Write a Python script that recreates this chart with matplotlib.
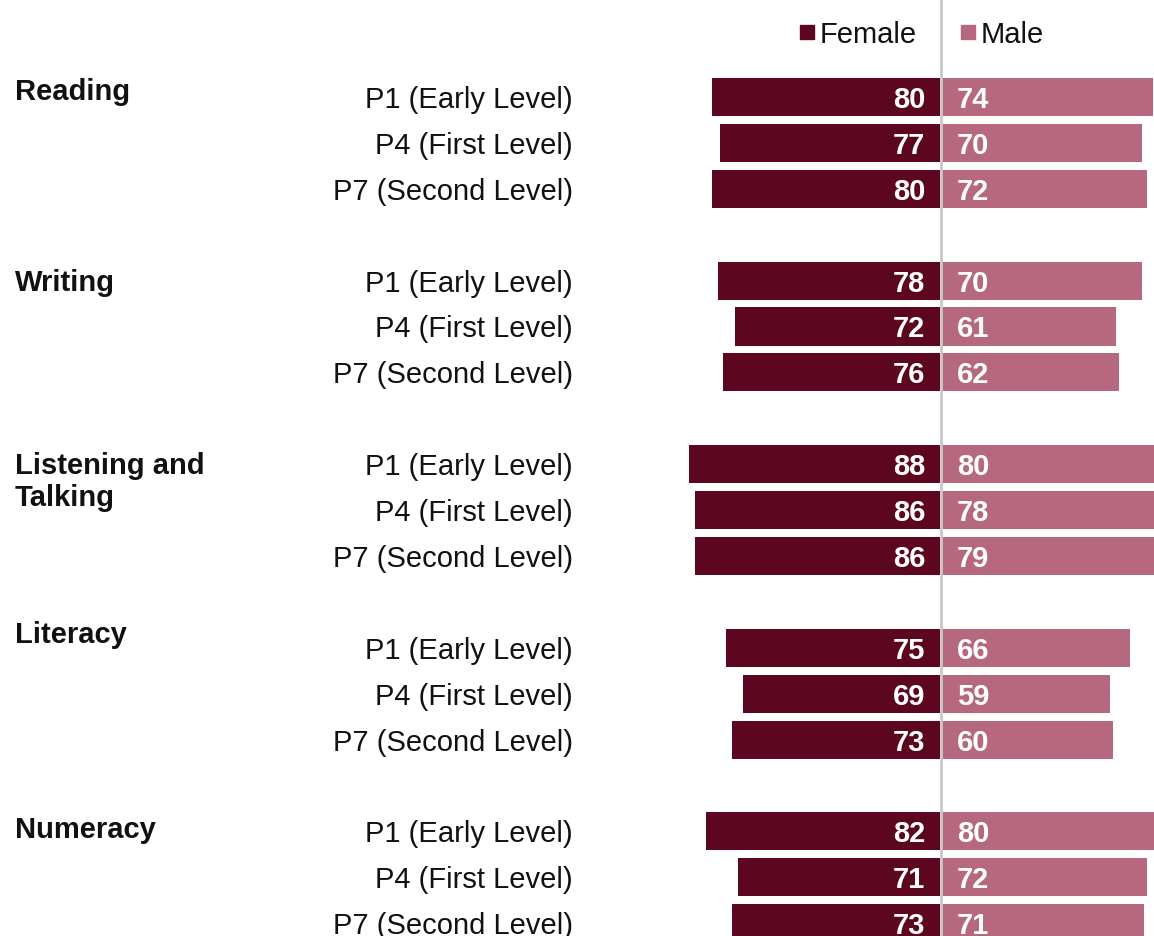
import matplotlib
matplotlib.use("Agg")
import matplotlib.pyplot as plt
from matplotlib.patches import Rectangle

plt.rcParams['font.family'] = ['Liberation Sans', 'DejaVu Sans']

# data
subjects = ["Reading", "Writing", "Listening and\nTalking", "Literacy", "Numeracy"]
stages = ["P1 (Early Level)", "P4 (First Level)", "P7 (Second Level)"]
female = [[80, 77, 80], [78, 72, 76], [88, 86, 86], [75, 69, 73], [82, 71, 73]]
male = [[74, 70, 72], [70, 61, 62], [80, 78, 79], [66, 59, 60], [80, 72, 71]]

female_col = "#5c0620"
male_col = "#b5687e"

W, H = 1154, 936
fig = plt.figure(figsize=(W / 100, H / 100), dpi=100)
ax = fig.add_axes([0, 0, 1, 1])

# pixel mapping: center line at x=941, 2.85 px per unit; row 0 at y=97, 45.9 px per row
cx, ppu = 941, 2.85
y0, ppr = 97, 45.9
ax.set_xlim(-cx / ppu, (W - cx) / ppu)
ax.set_ylim((H - y0) / ppr, -y0 / ppr)
ax.axis("off")

gap = 0.4  # small white gap either side of the centre line
dy = 3 / ppr  # nudge text down to centre on the bars
label_off = [-0.15, 0.0, 0.0, -0.33, -0.07]
fs = 21

for g in range(len(subjects)):
    for s in range(len(stages)):
        r = g * 4 + s
        f, m = female[g][s], male[g][s]
        ax.barh(r, -f, left=-gap, height=0.83, color=female_col)
        ax.barh(r, m, left=gap, height=0.83, color=male_col)
        ax.text(-5.5, r + dy, str(f), ha="right", va="center", color="white",
                fontsize=fs, fontweight="bold")
        ax.text(5.5, r + dy, str(m), ha="left", va="center", color="white",
                fontsize=fs, fontweight="bold")
        ax.text((573 - cx) / ppu, r + dy, stages[s], ha="right", va="center",
                fontsize=fs, color="#111111")
    ax.text((15 - cx) / ppu, g * 4 + label_off[g] - 0.3 + 0.6 * dy, subjects[g],
            ha="left", va="top", fontsize=fs, fontweight="bold", color="#111111",
            linespacing=1.18)

ax.axvline(0, color="#c8c8c8", lw=2, zorder=3)

# legend
ly = -(97 - 32) / ppr
ax.add_patch(Rectangle(((800 - cx) / ppu, ly - 7 / ppr), 14 / ppu, 14 / ppr,
                       color=female_col, clip_on=False))
ax.text((820 - cx) / ppu, ly + dy, "Female", ha="left", va="center",
        fontsize=fs, color="#111111")
ax.add_patch(Rectangle(((961 - cx) / ppu, ly - 7 / ppr), 14 / ppu, 14 / ppr,
                       color=male_col, clip_on=False))
ax.text((981 - cx) / ppu, ly + dy, "Male", ha="left", va="center",
        fontsize=fs, color="#111111")

fig.savefig("out.png", dpi=100)
